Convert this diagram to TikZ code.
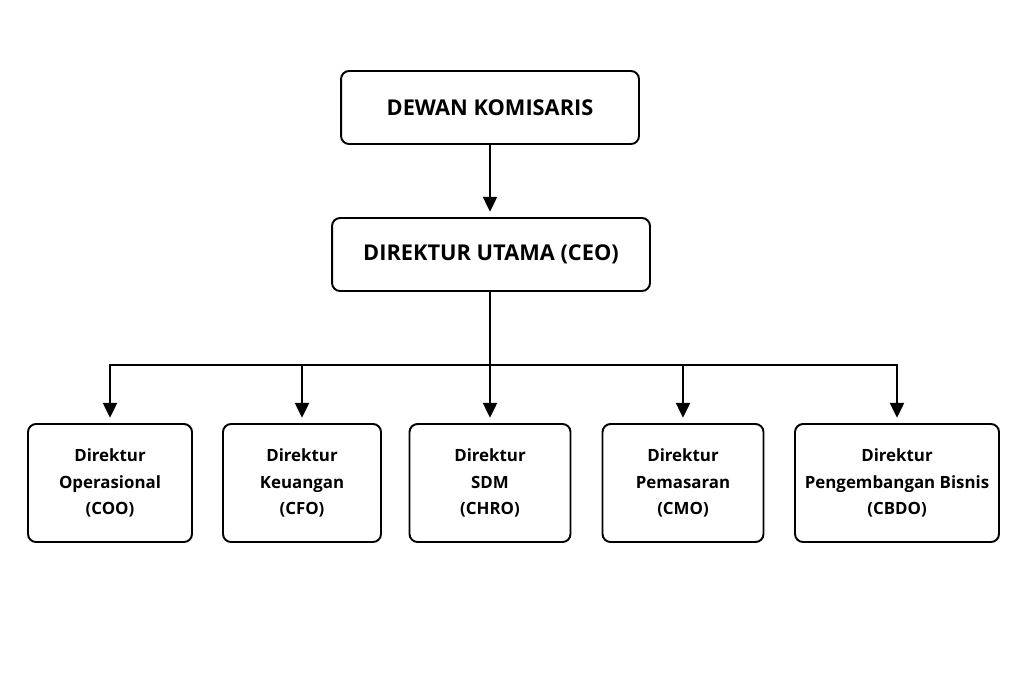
\documentclass[tikz,border=0pt]{standalone}
\usepackage{fontspec}
\setmainfont{Open Sans}
\usetikzlibrary{arrows.meta}

\begin{document}
\begin{tikzpicture}[x=0.02cm,y=-0.02cm,
    box/.style={draw,line width=1.1pt,rounded corners=0.16cm,align=center,
      inner sep=0pt,font=\bfseries},
    topbox/.style={box,minimum height=1.46cm,font=\fontsize{12.4}{14}\selectfont\bfseries},
    dirbox/.style={box,minimum height=2.36cm,font=\fontsize{9.6}{15.3}\selectfont\bfseries},
    link/.style={line width=1.1pt,-{Triangle[length=8.5pt,width=8pt]}}]
    \useasboundingbox (0,0) rectangle (1024,683);
    \node[topbox,minimum width=5.96cm] (dk) at (490,107.5) {DEWAN KOMISARIS};
    \node[topbox,minimum width=6.36cm] (ceo) at (491,254.5) {DIREKTUR UTAMA (CEO)};
    \node[dirbox,minimum width=3.28cm] (coo) at (110,483) {Direktur\\Operasional\\(COO)};
    \node[dirbox,minimum width=3.16cm] (cfo) at (302,483) {Direktur\\Keuangan\\(CFO)};
    \node[dirbox,minimum width=3.22cm] (chro) at (490,483) {Direktur\\SDM\\(CHRO)};
    \node[dirbox,minimum width=3.22cm] (cmo) at (683,483) {Direktur\\Pemasaran\\(CMO)};
    \node[dirbox,minimum width=4.08cm] (cbdo) at (897,483) {Direktur\\Pengembangan Bisnis\\(CBDO)};
    \draw[link] (dk.south -| 490,0) -- ([yshift=3pt]ceo.north -| 490,0);
    \coordinate (bar) at (490,365);
    \draw[line width=1.1pt] (ceo.south -| bar) -- (bar);
    \draw[line width=1.1pt,line cap=rect] (bar -| coo) -- (bar -| cbdo);
    \foreach \d in {coo,cfo,chro,cmo,cbdo}
      \draw[link] (bar -| \d) -- ([yshift=3pt]\d.north);
\end{tikzpicture}
\end{document}
